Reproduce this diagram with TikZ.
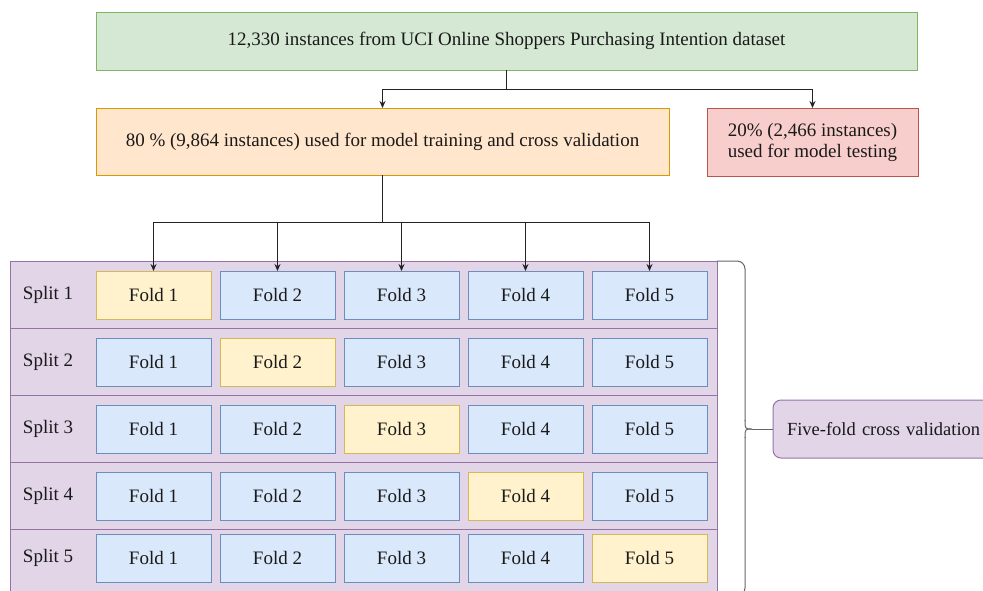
\documentclass[tikz,border=0pt]{standalone}
\usepackage{fontspec}
\setmainfont{Liberation Serif}
\usetikzlibrary{arrows.meta}
\definecolor{gfill}{HTML}{D5E8D4}\definecolor{gline}{HTML}{82B366}
\definecolor{ofill}{HTML}{FFE6CC}\definecolor{oline}{HTML}{D79B00}
\definecolor{rfill}{HTML}{F8CECC}\definecolor{rline}{HTML}{B85450}
\definecolor{bfill}{HTML}{DAE8FC}\definecolor{bline}{HTML}{6C8EBF}
\definecolor{yfill}{HTML}{FFF2CC}\definecolor{yline}{HTML}{D6B656}
\definecolor{pfill}{HTML}{E1D5E7}\definecolor{pline}{HTML}{9673A6}
\definecolor{txt}{HTML}{1A1A1A}
\definecolor{conn}{HTML}{222222}
\definecolor{brk}{HTML}{666666}
\begin{document}
\begin{tikzpicture}[x=1pt,y=-1pt,
  every node/.style={font=\rmfamily\fontsize{19}{21}\selectfont, text=txt, inner sep=0pt, outer sep=0pt, line width=1pt},
  box/.style={draw, rectangle, align=center},
  greenbox/.style={box, fill=gfill, draw=gline},
  orangebox/.style={box, fill=ofill, draw=oline},
  redbox/.style={box, fill=rfill, draw=rline},
  foldb/.style={box, fill=bfill, draw=bline, minimum width=115pt, minimum height=48pt},
  foldy/.style={box, fill=yfill, draw=yline, minimum width=115pt, minimum height=48pt},
  rowbox/.style={draw=pline, fill=pfill, rectangle, minimum width=707pt, minimum height=67pt, anchor=north west},
  labbox/.style={draw=pline, fill=pfill, rectangle, rounded corners=8pt, minimum width=228pt, minimum height=58pt, anchor=west, align=left, text width=200pt, inner xsep=12pt, font=\rmfamily\fontsize{18.5}{21}\selectfont},
  conline/.style={draw=conn, line width=1pt},
  arr/.style={conline, -{Stealth[length=7pt,width=6pt]}},
  bracket/.style={draw=brk, line width=1pt}
]
\useasboundingbox (0,0) rectangle (983,590);
\clip (0,0) rectangle (983,590);

\node[greenbox, minimum width=821pt, minimum height=58pt] (data) at (506.5,41) {12,330 instances from UCI Online Shoppers Purchasing Intention dataset};
\node[orangebox, minimum width=573pt, minimum height=67pt] (train) at (382.5,141.5) {80 \% (9,864 instances) used for model training and cross validation};
\node[redbox, minimum width=211pt, minimum height=68pt] (test) at (812.5,142) {20\% (2,466 instances)\\used for model testing};

% rows
\foreach \i/\t in {1/261,2/328,3/395,4/462,5/529}{
  \node[rowbox] (r\i) at (10,\t) {};
}
% fold boxes
\foreach \i/\y in {1/295,2/362,3/429,4/496,5/558}{
  \node[anchor=west] (s\i) at (23,\y) {Split \i};
  \foreach \j/\x in {1/153.5,2/277.5,3/401.5,4/525.5,5/649.5}{
    \ifnum\i=\j
      \node[foldy] (f\i\j) at (\x,\y) {Fold \j};
    \else
      \node[foldb] (f\i\j) at (\x,\y) {Fold \j};
    \fi
  }
}

% connectors top
\coordinate (j1) at (data.south |- 0,89);
\draw[conline] (data.south) -- (j1);
\draw[arr] (j1) -| (train.north);
\draw[arr] (j1) -| (test.north);

\coordinate (j2) at (train.south |- 0,222);
\draw[conline] (train.south) -- (j2);
\foreach \j in {1,...,5}{
  \draw[arr] (j2) -| (f1\j.north);
}

% bracket and label
\node[labbox] (cv) at (773,429) {Five-fold cross validation};
\coordinate (btop) at (r1.north east);
\coordinate (bbot) at (r5.south east);
\coordinate (btip) at (752,429);
\draw[bracket, rounded corners=8pt] (btop) -- (745,261) -- (745,421);
\draw[bracket] (745,420) .. controls (745,429) .. (btip);
\draw[bracket] (btip) .. controls (745,429) .. (745,438);
\draw[bracket, rounded corners=8pt] (745,437) -- (745,596) -- (bbot);
\draw[bracket] (btip) -- (cv.west);
\end{tikzpicture}
\end{document}
